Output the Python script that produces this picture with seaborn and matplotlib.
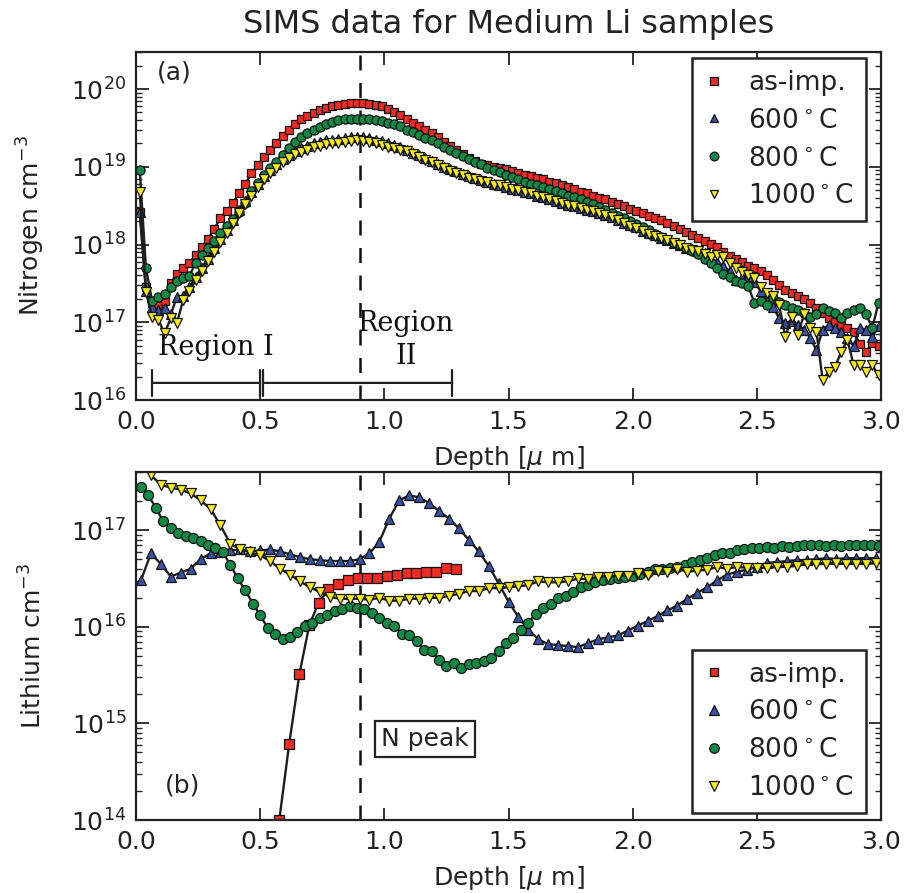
import numpy as np
import pandas as pd
import matplotlib
matplotlib.use("Agg")
import matplotlib.pyplot as plt
from matplotlib.lines import Line2D
from matplotlib.ticker import LogLocator, FormatStrFormatter, MultipleLocator, NullFormatter
import seaborn as sns

# ---------------- data (log10 of concentration) ----------------
series_labels = ["as-imp.", "600$^\\circ$C", "800$^\\circ$C", "1000$^\\circ$C"]

# Nitrogen (top panel): common depth grid [um]
n_depth = [0.015, 0.040, 0.065, 0.090, 0.115, 0.140, 0.165, 0.190, 0.215, 0.240,
           0.265, 0.290, 0.315, 0.340, 0.365, 0.390, 0.415, 0.440, 0.465, 0.490,
           0.515, 0.540, 0.565, 0.590, 0.615, 0.640, 0.665, 0.690, 0.715, 0.740,
           0.765, 0.790, 0.815, 0.840, 0.865, 0.890, 0.915, 0.940, 0.965, 0.990,
           1.015, 1.040, 1.065, 1.090, 1.115, 1.140, 1.165, 1.190, 1.215, 1.240,
           1.265, 1.290, 1.315, 1.340, 1.365, 1.390, 1.415, 1.440, 1.465, 1.490,
           1.515, 1.540, 1.565, 1.590, 1.615, 1.640, 1.665, 1.690, 1.715, 1.740,
           1.765, 1.790, 1.815, 1.840, 1.865, 1.890, 1.915, 1.940, 1.965, 1.990,
           2.015, 2.040, 2.065, 2.090, 2.115, 2.140, 2.165, 2.190, 2.215, 2.240,
           2.265, 2.290, 2.315, 2.340, 2.365, 2.390, 2.415, 2.440, 2.465, 2.490,
           2.515, 2.540, 2.565, 2.590, 2.615, 2.640, 2.665, 2.690, 2.715, 2.740,
           2.765, 2.790, 2.815, 2.840, 2.865, 2.890, 2.915, 2.940, 2.965, 2.990]

n_asimp = [18.42, 17.45, 17.25, 17.24, 17.28, 17.50, 17.62, 17.70, 17.76, 17.86,
           17.97, 18.07, 18.20, 18.34, 18.43, 18.53, 18.66, 18.78, 18.92, 19.02,
           19.12, 19.21, 19.30, 19.40, 19.48, 19.55, 19.61, 19.66, 19.69, 19.73,
           19.76, 19.78, 19.80, 19.81, 19.82, 19.82, 19.82, 19.81, 19.80, 19.78,
           19.75, 19.71, 19.67, 19.62, 19.57, 19.52, 19.48, 19.43, 19.38, 19.32,
           19.27, 19.21, 19.16, 19.11, 19.07, 19.04, 19.02, 19.00, 18.99, 18.97,
           18.95, 18.92, 18.90, 18.88, 18.86, 18.84, 18.81, 18.79, 18.76, 18.74,
           18.71, 18.68, 18.66, 18.63, 18.60, 18.58, 18.55, 18.52, 18.49, 18.46,
           18.43, 18.40, 18.37, 18.34, 18.31, 18.28, 18.24, 18.20, 18.16, 18.12,
           18.08, 18.05, 18.01, 17.97, 17.91, 17.85, 17.81, 17.77, 17.73, 17.70,
           17.66, 17.61, 17.55, 17.48, 17.42, 17.38, 17.34, 17.30, 17.25, 17.18,
           17.12, 17.06, 17.00, 16.96, 16.92, 16.88, 16.72, 16.62, 16.73, 16.70]

n_600 = [18.42, 17.40, 17.20, 17.16, 17.18, 17.10, 17.33, 17.34, 17.45, 17.58,
         17.70, 17.82, 17.95, 18.07, 18.19, 18.32, 18.44, 18.56, 18.67, 18.78,
         18.88, 18.96, 19.03, 19.10, 19.15, 19.20, 19.24, 19.27, 19.30, 19.32,
         19.34, 19.35, 19.36, 19.37, 19.38, 19.39, 19.38, 19.37, 19.35, 19.33,
         19.31, 19.28, 19.25, 19.22, 19.18, 19.15, 19.11, 19.08, 19.04, 19.00,
         18.97, 18.94, 18.91, 18.88, 18.85, 18.83, 18.81, 18.78, 18.76, 18.74,
         18.72, 18.70, 18.68, 18.66, 18.63, 18.61, 18.59, 18.56, 18.54, 18.51,
         18.49, 18.47, 18.45, 18.43, 18.41, 18.38, 18.35, 18.31, 18.28, 18.25,
         18.22, 18.18, 18.15, 18.12, 18.09, 18.06, 18.02, 17.99, 17.96, 17.94,
         17.92, 17.89, 17.82, 17.78, 17.72, 17.66, 17.54, 17.58, 17.60, 17.52,
         17.40, 17.29, 17.20, 17.05, 16.99, 17.02, 16.97, 16.90, 16.80, 16.64,
         16.90, 16.97, 16.93, 16.88, 16.80, 16.69, 16.93, 16.90, 16.81, 16.95]

n_800 = [18.96, 17.70, 17.27, 17.32, 17.36, 17.45, 17.53, 17.57, 17.60, 17.76,
         17.87, 17.96, 18.05, 18.15, 18.24, 18.33, 18.42, 18.54, 18.69, 18.79,
         18.89, 18.98, 19.06, 19.15, 19.24, 19.32, 19.38, 19.43, 19.47, 19.51,
         19.55, 19.58, 19.60, 19.61, 19.62, 19.62, 19.62, 19.61, 19.60, 19.59,
         19.57, 19.55, 19.52, 19.48, 19.45, 19.41, 19.37, 19.34, 19.30, 19.26,
         19.22, 19.18, 19.14, 19.10, 19.06, 19.03, 18.99, 18.96, 18.93, 18.90,
         18.87, 18.84, 18.81, 18.78, 18.76, 18.74, 18.72, 18.69, 18.66, 18.63,
         18.61, 18.58, 18.55, 18.52, 18.48, 18.44, 18.40, 18.37, 18.34, 18.30,
         18.27, 18.23, 18.19, 18.14, 18.10, 18.06, 18.02, 17.99, 17.95, 17.92,
         17.88, 17.81, 17.76, 17.70, 17.62, 17.58, 17.53, 17.50, 17.47, 17.25,
         17.28, 17.22, 17.31, 17.26, 17.22, 17.18, 17.16, 17.12, 17.07, 17.10,
         17.18, 17.14, 17.12, 17.06, 17.12, 17.16, 17.18, 17.10, 16.93, 17.25]

n_1000 = [18.68, 17.39, 17.07, 17.03, 16.86, 17.05, 16.99, 17.29, 17.40, 17.54,
          17.66, 17.79, 17.91, 18.03, 18.15, 18.28, 18.40, 18.52, 18.63, 18.74,
          18.84, 18.92, 18.99, 19.06, 19.11, 19.16, 19.19, 19.22, 19.25, 19.27,
          19.29, 19.30, 19.31, 19.32, 19.33, 19.34, 19.33, 19.32, 19.30, 19.28,
          19.26, 19.24, 19.22, 19.20, 19.16, 19.13, 19.09, 19.06, 19.02, 18.98,
          18.95, 18.92, 18.89, 18.86, 18.84, 18.82, 18.80, 18.77, 18.76, 18.74,
          18.72, 18.70, 18.67, 18.66, 18.63, 18.61, 18.58, 18.56, 18.54, 18.51,
          18.49, 18.47, 18.45, 18.43, 18.41, 18.38, 18.35, 18.31, 18.28, 18.24,
          18.21, 18.18, 18.14, 18.11, 18.08, 18.06, 18.02, 17.99, 17.96, 17.93,
          17.92, 17.88, 17.84, 17.86, 17.84, 17.76, 17.70, 17.65, 17.61, 17.57,
          17.45, 17.38, 17.34, 17.22, 16.81, 17.07, 16.84, 17.10, 16.93, 16.88,
          16.26, 16.36, 16.43, 16.62, 16.77, 16.45, 16.45, 16.36, 16.45, 16.32]

# Lithium (bottom panel)
li_asimp_depth = [0.577, 0.617, 0.658, 0.698, 0.736, 0.775, 0.815, 0.852, 0.893, 0.932,
                  0.972, 1.010, 1.050, 1.090, 1.128, 1.168, 1.208, 1.248, 1.289]
li_asimp = [14.00, 14.79, 15.51, 16.02, 16.25, 16.39, 16.44, 16.48, 16.50, 16.50,
            16.50, 16.53, 16.54, 16.56, 16.56, 16.57, 16.57, 16.61, 16.60]

li_grid40 = [0.02, 0.06, 0.10, 0.14, 0.18, 0.22, 0.26, 0.30, 0.34, 0.38,
             0.42, 0.46, 0.50, 0.54, 0.58, 0.62, 0.66, 0.70, 0.74, 0.78,
             0.82, 0.86, 0.90, 0.94, 0.98, 1.02, 1.06, 1.10, 1.14, 1.18,
             1.22, 1.26, 1.30, 1.34, 1.38, 1.42, 1.46, 1.50, 1.54, 1.58,
             1.62, 1.66, 1.70, 1.74, 1.78, 1.82, 1.86, 1.90, 1.94, 1.98,
             2.02, 2.06, 2.10, 2.14, 2.18, 2.22, 2.26, 2.30, 2.34, 2.38,
             2.42, 2.46, 2.50, 2.54, 2.58, 2.62, 2.66, 2.70, 2.74, 2.78,
             2.82, 2.86, 2.90, 2.94, 2.98]

li_600 = [16.48, 16.76, 16.65, 16.52, 16.56, 16.60, 16.70, 16.76, 16.77, 16.79,
          16.80, 16.78, 16.79, 16.80, 16.78, 16.75, 16.72, 16.70, 16.69, 16.68,
          16.68, 16.68, 16.70, 16.76, 16.88, 17.12, 17.31, 17.36, 17.34, 17.28,
          17.20, 17.12, 17.02, 16.90, 16.78, 16.63, 16.45, 16.26, 16.10, 15.97,
          15.87, 15.82, 15.81, 15.80, 15.79, 15.83, 15.87, 15.89, 15.91, 15.96,
          16.01, 16.06, 16.11, 16.17, 16.22, 16.29, 16.35, 16.41, 16.48, 16.54,
          16.57, 16.59, 16.62, 16.66, 16.67, 16.68, 16.69, 16.69, 16.70, 16.71,
          16.70, 16.71, 16.71, 16.71, 16.71]

li_1000 = [17.68, 17.57, 17.47, 17.44, 17.42, 17.38, 17.31, 17.22, 17.05, 16.86,
           16.80, 16.77, 16.74, 16.68, 16.60, 16.54, 16.47, 16.41, 16.36, 16.31,
           16.29, 16.29, 16.29, 16.28, 16.30, 16.27, 16.27, 16.29, 16.29, 16.30,
           16.30, 16.32, 16.34, 16.37, 16.37, 16.40, 16.40, 16.41, 16.42, 16.43,
           16.47, 16.46, 16.46, 16.47, 16.50, 16.49, 16.52, 16.52, 16.53, 16.53,
           16.56, 16.54, 16.58, 16.57, 16.60, 16.57, 16.58, 16.59, 16.62, 16.60,
           16.62, 16.61, 16.61, 16.61, 16.62, 16.62, 16.63, 16.65, 16.65, 16.65,
           16.66, 16.65, 16.65, 16.65, 16.66]

li_grid30 = [0.02, 0.05, 0.08, 0.11, 0.14, 0.17, 0.20, 0.23, 0.26, 0.29,
             0.32, 0.35, 0.38, 0.41, 0.44, 0.47, 0.50, 0.53, 0.56, 0.59,
             0.62, 0.65, 0.68, 0.71, 0.74, 0.77, 0.80, 0.83, 0.86, 0.89,
             0.92, 0.95, 0.98, 1.01, 1.04, 1.07, 1.10, 1.13, 1.16, 1.19,
             1.22, 1.25, 1.28, 1.31, 1.34, 1.37, 1.40, 1.43, 1.46, 1.49,
             1.52, 1.55, 1.58, 1.61, 1.64, 1.67, 1.70, 1.73, 1.76, 1.79,
             1.82, 1.85, 1.88, 1.91, 1.94, 1.97, 2.00, 2.03, 2.06, 2.09,
             2.12, 2.15, 2.18, 2.21, 2.24, 2.27, 2.30, 2.33, 2.36, 2.39,
             2.42, 2.45, 2.48, 2.51, 2.54, 2.57, 2.60, 2.63, 2.66, 2.69,
             2.72, 2.75, 2.78, 2.81, 2.84, 2.87, 2.90, 2.93, 2.96, 2.99]

li_800 = [17.45, 17.36, 17.23, 17.09, 17.02, 16.97, 16.94, 16.92, 16.89, 16.85,
          16.82, 16.77, 16.64, 16.50, 16.38, 16.24, 16.12, 15.99, 15.93, 15.87,
          15.89, 15.95, 16.01, 16.04, 16.09, 16.12, 16.16, 16.18, 16.21, 16.19,
          16.18, 16.14, 16.09, 16.04, 16.01, 15.93, 15.92, 15.85, 15.76, 15.75,
          15.66, 15.59, 15.62, 15.57, 15.61, 15.62, 15.65, 15.68, 15.75, 15.83,
          15.88, 15.97, 16.04, 16.13, 16.19, 16.24, 16.30, 16.32, 16.36, 16.41,
          16.43, 16.46, 16.48, 16.49, 16.51, 16.52, 16.53, 16.55, 16.57, 16.60,
          16.60, 16.61, 16.62, 16.64, 16.67, 16.69, 16.71, 16.74, 16.76, 16.76,
          16.79, 16.80, 16.82, 16.82, 16.83, 16.82, 16.84, 16.83, 16.84, 16.85,
          16.85, 16.85, 16.84, 16.85, 16.84, 16.85, 16.85, 16.85, 16.85, 16.84]

x_ticks = [0.0, 0.5, 1.0, 1.5, 2.0, 2.5, 3.0]

# ---------------- styling ----------------
colors = ["#ee2b24", "#3953a4", "#128a45", "#f6eb14"]
markers = ["s", "^", "o", "v"]
LINE = "#1e1e1e"
TOP_MS = {"s": 6.0, "^": 6.8, "o": 6.6, "v": 6.8}
BOT_MS = {"s": 6.6, "^": 7.4, "o": 7.2, "v": 7.4}

sns.set_theme(style="ticks")
plt.rcParams["font.family"] = ["DejaVu Sans"]
plt.rcParams["mathtext.fontset"] = "dejavusans"
plt.rcParams["axes.linewidth"] = 1.6
FS = 18

fig = plt.figure(figsize=(9.06, 8.93), dpi=100)
ax1 = fig.add_axes([136 / 906, 1 - 400 / 893, 745 / 906, 348 / 893])
ax2 = fig.add_axes([136 / 906, 1 - 820 / 893, 745 / 906, 348 / 893])

top_sets = [(n_depth, n_asimp), (n_depth, n_600), (n_depth, n_800), (n_depth, n_1000)]
bot_sets = [(li_asimp_depth, li_asimp), (li_grid40, li_600), (li_grid30, li_800), (li_grid40, li_1000)]

for ax, sets, msd in [(ax1, top_sets, TOP_MS), (ax2, bot_sets, BOT_MS)]:
    ax.set_yscale("log")
    for (dx, dy), c, m, lab in zip(sets, colors, markers, series_labels):
        df = pd.DataFrame({"depth": dx, "conc": np.power(10.0, dy)})
        sns.lineplot(data=df, x="depth", y="conc", ax=ax, color=LINE, lw=1.7,
                     marker=m, markersize=msd[m],
                     markerfacecolor=c, markeredgecolor="#111111", markeredgewidth=0.9,
                     estimator=None, sort=False, legend=False)
    ax.axvline(0.9, color="#111111", lw=1.8, ls=(0, (6, 5)), zorder=1)
    ax.set_xlim(0, 3)
    ax.set_xticks(x_ticks)
    ax.xaxis.set_major_formatter(FormatStrFormatter("%.1f"))
    ax.xaxis.set_minor_locator(MultipleLocator(0.5))
    ax.yaxis.set_major_locator(LogLocator(base=10, numticks=20))
    ax.yaxis.set_minor_locator(LogLocator(base=10, subs=np.arange(2, 10), numticks=100))
    ax.yaxis.set_minor_formatter(NullFormatter())
    ax.tick_params(which="major", direction="in", top=True, right=True, length=9, width=1.3,
                   labelsize=FS, pad=7, colors="#222222")
    ax.tick_params(which="minor", direction="in", top=True, right=True, length=4.5, width=1.0)
    ax.set_xlabel("Depth [$\\mu$ m]", fontsize=FS, color="#222222")
    ax.xaxis.set_label_coords(0.5, -0.125)
    for s in ax.spines.values():
        s.set_visible(True)
        s.set_color("#222222")
        s.set_linewidth(1.6)

ax1.set_ylim(1e16, 3e20)
ax2.set_ylim(1e14, 4e17)
ax1.set_ylabel("Nitrogen cm$^{-3}$", fontsize=FS, color="#222222")
ax2.set_ylabel("Lithium cm$^{-3}$", fontsize=FS, color="#222222")
ax1.yaxis.set_label_coords(-0.12, 0.5)
ax2.yaxis.set_label_coords(-0.12, 0.5)

# legends (markers only)
for ax, loc, anchor, msd in [(ax1, "upper right", (0.980, 0.983), TOP_MS),
                             (ax2, "lower right", (0.980, 0.020), BOT_MS)]:
    handles = [Line2D([], [], ls="none", marker=m, markersize=msd[m] * 0.95,
                      markerfacecolor=c, markeredgecolor="#111111", markeredgewidth=0.9)
               for c, m in zip(colors, markers)]
    leg = ax.legend(handles, series_labels, loc=loc, bbox_to_anchor=anchor, borderaxespad=0,
                    fontsize=FS + 1, frameon=True, fancybox=False, framealpha=1,
                    edgecolor="#222222", handletextpad=0.9, labelspacing=0.45,
                    borderpad=0.45, handlelength=0.8)
    leg.get_frame().set_linewidth(1.8)
    for t in leg.get_texts():
        t.set_color("#222222")

# annotations
ax1.text(0.028, 0.94, "(a)", transform=ax1.transAxes, fontsize=FS, va="center", ha="left", color="#222222")
ax2.text(0.039, 0.10, "(b)", transform=ax2.transAxes, fontsize=FS, va="center", ha="left", color="#222222")
ax2.text(1.164, 10 ** 14.84, "N peak", fontsize=FS, ha="center", va="center", color="#222222",
         bbox=dict(boxstyle="square,pad=0.25", facecolor="white", edgecolor="#222222", lw=1.6))

serif = ["DejaVu Serif"]
ax1.text(0.32, 10 ** 16.68, "Region I", family=serif, fontsize=19.5, ha="center", va="center", color="#111111")
ax1.text(1.087, 10 ** 16.77, "Region\nII", family=serif, fontsize=19.5, ha="center", va="center",
         color="#111111", linespacing=1.3)
yb = 10 ** 16.22
for xa, xb in [(0.066, 0.50), (0.513, 1.274)]:
    ax1.annotate("", xy=(xa, yb), xytext=(xb, yb),
                 arrowprops=dict(arrowstyle="|-|,widthA=0.8,widthB=0.8", lw=1.6, color="#222222",
                                 shrinkA=0, shrinkB=0, mutation_scale=12))

fig.text(509 / 906, 1 - 24 / 893, "SIMS data for Medium Li samples", fontsize=23,
         ha="center", va="center", color="#222222")

fig.savefig("out.png", dpi=100)
